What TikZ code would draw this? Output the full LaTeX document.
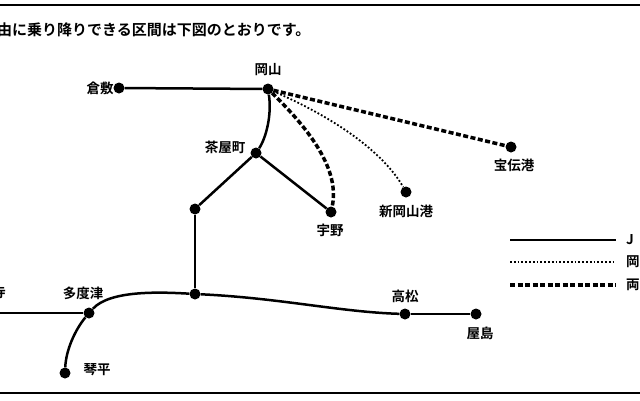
\documentclass[tikz,border=0pt]{standalone}
\usepackage{fontspec}
\setmainfont{Noto Sans CJK JP}[BoldFont={* Bold}]
\begin{document}
\begin{tikzpicture}[x=1pt,y=-1pt,
  st/.style={circle,fill=black,inner sep=0pt,minimum size=11pt},
  lb/.style={font=\bfseries\fontsize{13.5}{15}\selectfont,inner sep=1pt},
  rail/.style={line width=2.5pt},
  dotl/.style={line width=1.8pt,dotted},
  dashl/.style={line width=3.5pt,dash pattern=on 5pt off 2.5pt}]
\useasboundingbox (0,0) rectangle (640,400);
\clip (0,0) rectangle (640,400);
\draw[line width=2pt] (0,5) -- (640,5);
\draw[line width=2pt] (0,393) -- (640,393);
\node[lb,font=\bfseries\fontsize{15}{17}\selectfont,anchor=west] (title) at (-4,30) {由に乗り降りできる区間は下図のとおりです。};
\node[st] (kura) at (119,88) {};
\node[st] (oka) at (268,89) {};
\node[st] (cha) at (256,153) {};
\node[st] (uno) at (331,212) {};
\node[st] (shin) at (406,192) {};
\node[st] (hoden) at (511,147) {};
\node[st] (j1) at (195,209) {};
\node[st] (j2) at (195,294) {};
\node[st] (tado) at (89,313) {};
\node[st] (koto) at (65,373) {};
\node[st] (taka) at (405,314) {};
\node[st] (yashi) at (476,314) {};
\coordinate (lend) at (-5,313);
\node[lb] at (100,88) {倉敷};
\node[lb] at (268,70) {岡山};
\node[lb] at (225,147) {茶屋町};
\node[lb] at (330,230) {宇野};
\node[lb] at (406,211) {新岡山港};
\node[lb] at (514,165) {宝伝港};
\node[lb] at (83,293) {多度津};
\node[lb] at (97,370) {琴平};
\node[lb] at (405,296) {高松};
\node[lb] at (480,333) {屋島};
\node[lb] at (-1,292) {寺};
\draw[rail] (kura) -- (oka);
\draw[rail] (oka) .. controls (272,115) and (266,138) .. (cha);
\draw[rail] (cha) -- (j1);
\draw[rail] (cha) -- (uno);
\draw[rail] (j1) -- (j2);
\draw[rail] (lend) -- (tado);
\draw[rail] (tado) .. controls (110,290) and (160,292) .. (j2);
\draw[rail] (j2) .. controls (280,298) and (340,312) .. (taka);
\draw[rail] (taka) -- (yashi);
\draw[rail] (tado) .. controls (75,330) and (66,350) .. (koto);
\draw[dashl] (oka) .. controls (310,130) and (340,170) .. (uno);
\draw[dotl] (oka) .. controls (340,120) and (385,155) .. (shin);
\draw[dashl] (oka) -- (hoden);
\coordinate (a1) at (510,240); \coordinate (a2) at (616,240);
\coordinate (b1) at (510,262); \coordinate (b2) at (616,262);
\coordinate (c1) at (510,285); \coordinate (c2) at (616,285);
\draw[rail] (a1) -- (a2);
\draw[dotl] (b1) -- (b2);
\draw[dashl] (c1) -- (c2);
\node[lb,anchor=west] at (625,240) {J};
\node[lb,anchor=west] at (625,262) {岡};
\node[lb,anchor=west] at (625,285) {両};
\end{tikzpicture}
\end{document}
